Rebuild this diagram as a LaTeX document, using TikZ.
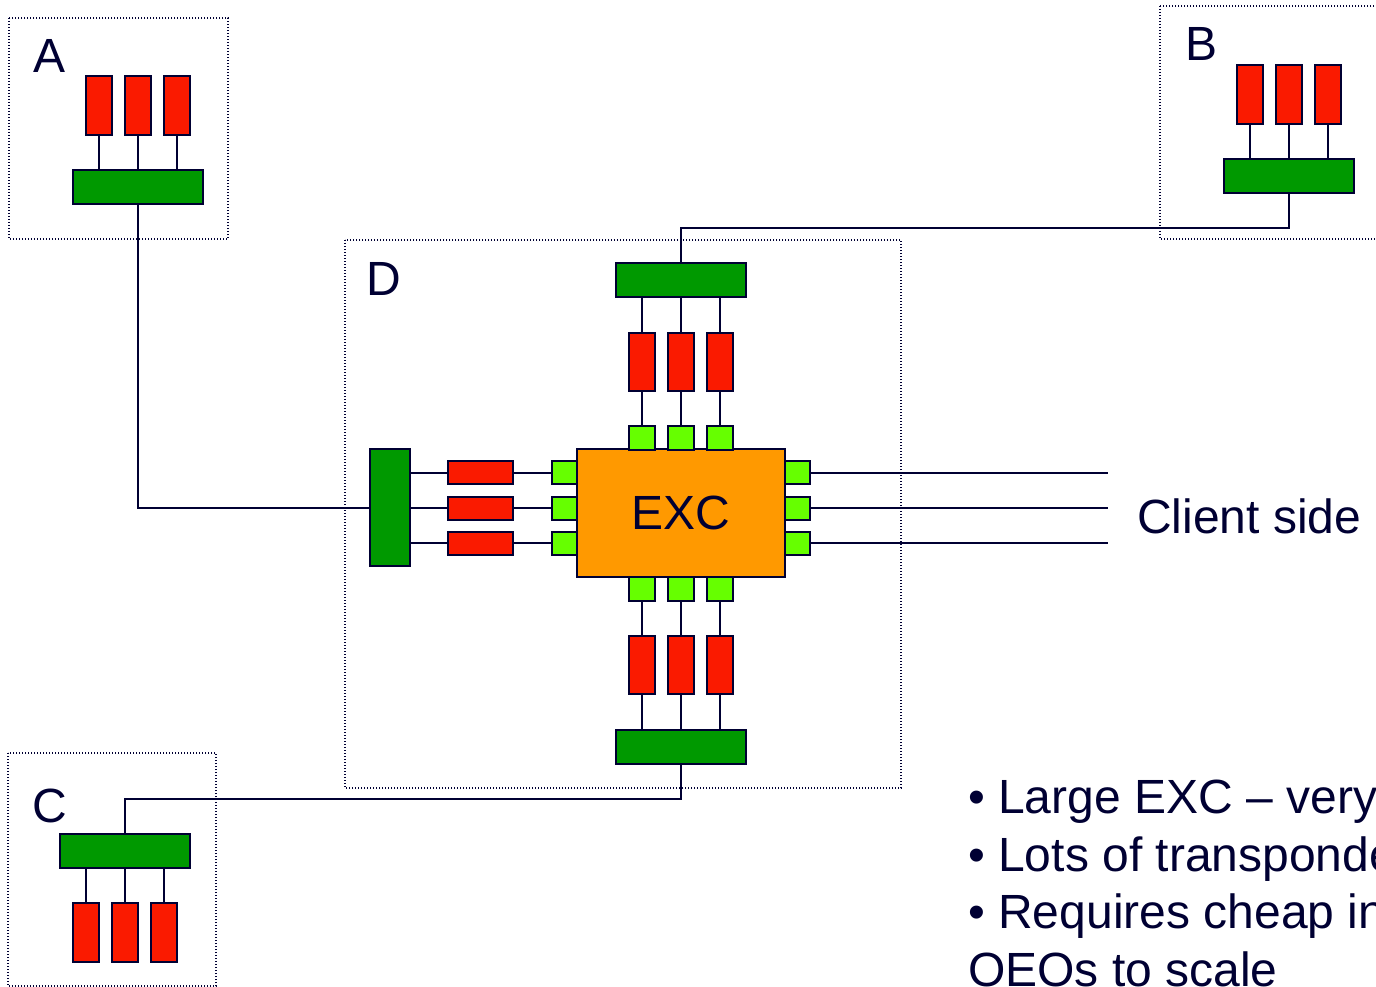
\documentclass[tikz,border=0pt]{standalone}
\usepackage{fontspec}
\setmainfont{Liberation Sans}
\definecolor{navy}{HTML}{000033}
\definecolor{tred}{HTML}{FA1A00}
\definecolor{tgreen}{HTML}{009900}
\definecolor{tlime}{HTML}{66FF00}
\definecolor{torange}{HTML}{FF9900}
\begin{document}
\begin{tikzpicture}[x=1pt,y=-1pt,
  part/.style={draw=navy, line width=2pt, inner sep=0pt, outer sep=0pt},
  redv/.style={part, fill=tred, minimum width=26pt, minimum height=59pt},
  redh/.style={part, fill=tred, minimum width=65pt, minimum height=23pt},
  mux/.style={part, fill=tgreen, minimum width=130pt, minimum height=34pt},
  muxv/.style={part, fill=tgreen, minimum width=40pt, minimum height=117pt},
  port/.style={part, fill=tlime, minimum width=26pt, minimum height=24pt},
  porth/.style={part, fill=tlime, minimum width=25pt, minimum height=23pt},
  wire/.style={draw=navy, line width=2pt},
  site/.style={draw=navy, line width=1.3pt, dash pattern=on 1.4pt off 1.6pt},
  lbl/.style={text=navy, font=\fontsize{48}{57}\selectfont, inner sep=0pt, anchor=base west},
]
\useasboundingbox (0,0) rectangle (1376,987);
\clip (0,0) rectangle (1376,987);
\fill[white] (0,0) rectangle (1376,987);

% site boxes
\draw[site] (9,18) rectangle (228,239);
\draw[site] (1160,6) rectangle (1400,239);
\draw[site] (8,753) rectangle (216,986);
\draw[site] (345,240) rectangle (901,788);

\node[lbl] (la) at (33,73) {A};
\node[lbl] (lb) at (1185,61) {B};
\node[lbl] (lc) at (32,822) {C};
\node[lbl] (ld) at (366,295) {D};

% ---------- A ----------
\node[mux] (ag) at (138,187) {};
\foreach \i/\x in {1/99,2/138,3/177}{
  \node[redv] (ar\i) at (\x,105.5) {};
  \draw[wire] (ar\i.south) -- (ar\i.south |- ag.north);
}
% ---------- B ----------
\node[mux] (bg) at (1289,176) {};
\foreach \i/\x in {1/1250,2/1289,3/1328}{
  \node[redv] (br\i) at (\x,94.5) {};
  \draw[wire] (br\i.south) -- (br\i.south |- bg.north);
}
% ---------- C ----------
\node[mux] (cg) at (125,851) {};
\foreach \i/\x in {1/86,2/125,3/164}{
  \node[redv] (cr\i) at (\x,932.5) {};
  \draw[wire] (cr\i.north) -- (cr\i.north |- cg.south);
}

% ---------- D ----------
\node[part, fill=torange, minimum width=208pt, minimum height=128pt,
      text=navy, font=\fontsize{48}{57}\selectfont] (exc) at (681,513) {EXC};

\node[mux] (dt) at (681,280) {};
\node[mux] (db) at (681,747) {};
\node[muxv] (dl) at (390,507.5) {};

\foreach \i/\x in {1/642,2/681,3/720}{
  \node[redv, minimum height=58pt] (tr\i) at (\x,362) {};
  \node[port] (tp\i) at (\x,437.5) {};
  \draw[wire] (tr\i.north) -- (tr\i.north |- dt.south);
  \draw[wire] (tr\i.south) -- (tp\i.north);
  \node[redv, minimum height=58pt] (wr\i) at (\x,665) {};
  \node[port] (wp\i) at (\x,589) {};
  \draw[wire] (wr\i.south) -- (wr\i.south |- db.north);
  \draw[wire] (wr\i.north) -- (wp\i.south);
}

\foreach \i/\y in {1/472.5,2/508,3/543}{
  \node[redh] (lr\i) at (480.5,\y) {};
  \node[porth] (lp\i) at (564.5,\y) {};
  \node[porth] (rp\i) at (797.5,\y) {};
  \coordinate (ce\i) at (1108,\y);
  \draw[wire] (lr\i.west -| dl.east) -- (lr\i.west);
  \draw[wire] (lr\i.east) -- (lp\i.west);
  \draw[wire] (rp\i.east) -- (ce\i);
}

% ---------- inter-site links ----------
\coordinate (byl) at (0,228);
\coordinate (cyl) at (0,799);
\draw[wire] (ag.south) |- (dl.west);
\draw[wire] (bg.south) -- (bg.south |- byl) -| (dt.north);
\draw[wire] (db.south) -- (db.south |- cyl) -| (cg.north);

% ---------- texts ----------
\node[lbl] (client) at (1137,533) {Client side};
\node[text=navy, font=\fontsize{48}{57.5}\selectfont, inner sep=0pt,
      anchor=base west, align=left] (notes) at (968,986)
  {• Large EXC – very\\• Lots of transponde\\• Requires cheap in\\OEOs to scale};
\end{tikzpicture}
\end{document}
